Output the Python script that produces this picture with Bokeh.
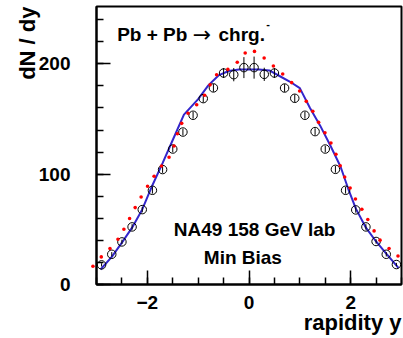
from bokeh.plotting import figure
from bokeh.models import Range1d, FixedTicker, Label, Title
from bokeh.embed import file_html
from bokeh.resources import INLINE

# --- data ---
data_x = [-2.9, -2.7, -2.5, -2.3, -2.1, -1.9, -1.7, -1.5, -1.3, -1.1, -0.9, -0.7, -0.5, -0.3, -0.1,
          0.1, 0.3, 0.5, 0.7, 0.9, 1.1, 1.3, 1.5, 1.7, 1.9, 2.1, 2.3, 2.5, 2.7, 2.9]
data_y = [17.8, 27.4, 38.6, 52.2, 67.9, 85.4, 104.2, 122.8, 138.2, 153.4, 168.5, 178.2, 191.7, 190.2, 196.6,
          196.6, 190.5, 191.7, 178.1, 168.8, 153.4, 138.6, 122.8, 104.4, 85.4, 67.6, 52.2, 39.0, 27.4, 18.1]
data_err = [1.5, 2, 2, 2.5, 2.5, 3, 3, 3, 3, 3, 3.5, 3.5, 4.5, 6, 9.5,
            10, 6, 4.5, 3.5, 3.5, 3, 3, 3, 3, 3, 2.5, 2.5, 2, 2, 1.5]

red_x = [-3.07, -2.906, -2.735, -2.578, -2.461, -2.349, -2.239, -2.122, -1.996, -1.867, -1.722, -1.573,
         -1.475, -1.408, -1.324, -1.200, -1.029, -0.873, -0.765, -0.637, -0.416, -0.231, -0.075, 0.108,
         0.298, 0.480, 0.663, 0.839, 0.996, 1.127, 1.255, 1.369, 1.494, 1.612, 1.710, 1.794, 1.882,
         1.990, 2.094, 2.220, 2.337, 2.461, 2.578, 2.755, 2.931]
red_y = [16.6, 25.0, 32.6, 41.0, 50.1, 59.8, 69.7, 79.3, 89.0, 98.1, 107.4, 115.3,
         125.5, 136.6, 146.1, 155.2, 163.0, 171.5, 181.0, 190.2, 195.0, 201.4, 209.8, 211.3,
         205.3, 198.0, 190.8, 183.0, 175.4, 166.0, 157.0, 147.0, 137.5, 128.3, 118.1, 107.6, 97.5,
         87.5, 77.5, 68.2, 58.9, 48.6, 40.2, 32.6, 25.9]

line_x = [-2.92, -2.7, -2.5, -2.3, -2.1, -1.9, -1.7, -1.5, -1.28, -1.0, -0.8, -0.6, -0.4, -0.2, 0.0,
          0.2, 0.4, 0.6, 0.8, 1.0, 1.2, 1.4, 1.6, 1.8, 1.95, 2.1, 2.3, 2.5, 2.7, 2.94]
line_y = [13.6, 25, 38, 51.5, 68, 90, 110, 131, 154, 168, 180.5, 189.5, 193.5, 194.8, 195,
          195, 194, 189, 184, 178, 160, 144, 126, 107, 87, 69, 51.5, 39, 28, 15]

x_major = [-2, 0, 2]
x_minor = [-3, -2.5, -2, -1.5, -1, -0.5, 0, 0.5, 1, 1.5, 2, 2.5, 3]
y_major = [0, 100, 200]
y_minor = [0, 20, 40, 60, 80, 100, 120, 140, 160, 180, 200, 220, 240]

FONT = "Liberation Sans"

p = figure(width=403, height=338, output_backend="svg", toolbar_location=None,
           x_range=Range1d(-3, 3), y_range=Range1d(0, 252),
           min_border_left=96, min_border_right=2, min_border_top=6, min_border_bottom=54)
p.grid.visible = False
p.background_fill_color = "white"
p.border_fill_color = "white"
p.outline_line_color = "black"
p.outline_line_width = 2

for ax, maj, mnr in ((p.xaxis[0], x_major, x_minor), (p.yaxis[0], y_major, y_minor)):
    ax.ticker = FixedTicker(ticks=maj, minor_ticks=mnr)
    ax.axis_line_width = 2
    ax.axis_line_color = "black"
    ax.major_tick_in = 14
    ax.major_tick_out = 0
    ax.minor_tick_in = 7
    ax.minor_tick_out = 0
    ax.major_tick_line_width = 1.5
    ax.minor_tick_line_width = 1.5
    ax.major_label_text_font = FONT
    ax.major_label_text_font_style = "bold"
    ax.major_label_text_font_size = "19px"
    ax.major_label_text_color = "black"
p.yaxis.major_label_standoff = 26
p.xaxis.major_label_standoff = 11

# model line
p.line(line_x, line_y, line_color="#3326cc", line_width=2)
# red model dots
r = p.scatter(red_x, red_y, marker="circle", size=3.6, fill_color="red", line_color=None)
r.level = "overlay"
# data with error bars
p.segment(x0=data_x, y0=[v - e for v, e in zip(data_y, data_err)],
          x1=data_x, y1=[v + e for v, e in zip(data_y, data_err)],
          line_color="black", line_width=1)
p.scatter(data_x, data_y, marker="circle", size=8.5, fill_color=None, line_color="black", line_width=1)

def lab(x, y, text, size="19px", style="bold", align="left", font=FONT):
    p.add_layout(Label(x=x, y=y, text=text, text_font=font, text_font_style=style,
                       text_font_size=size, text_align=align, text_baseline="alphabetic",
                       text_color="black"))

lab(-2.593, 226.3, "Pb + Pb")
lab(-1.105, 226.3, "\u2192", style="normal", size="22px", font="DejaVu Sans")
lab(-0.600, 226.3, "chrg.")
lab(0.340, 236.3, "-", size="11px")
lab(-1.479, 49.6, "NA49 158 GeV lab")
lab(-0.889, 24.7, "Min Bias")

# axis titles in the side panels, aligned to the axis ends like the reference
def side_title(text, side, standoff, valign):
    t = Title(text=text, align="right", vertical_align=valign, text_font=FONT,
              text_font_style="bold", text_font_size="22px", text_color="black")
    try:
        t.standoff = standoff
    except Exception:
        t.standoff = 0
    p.add_layout(t, side)

side_title("rapidity y", "below", -3, "top")
side_title("dN / dy", "left", -8, "bottom")

open("out.html", "w").write(file_html(p, INLINE))
